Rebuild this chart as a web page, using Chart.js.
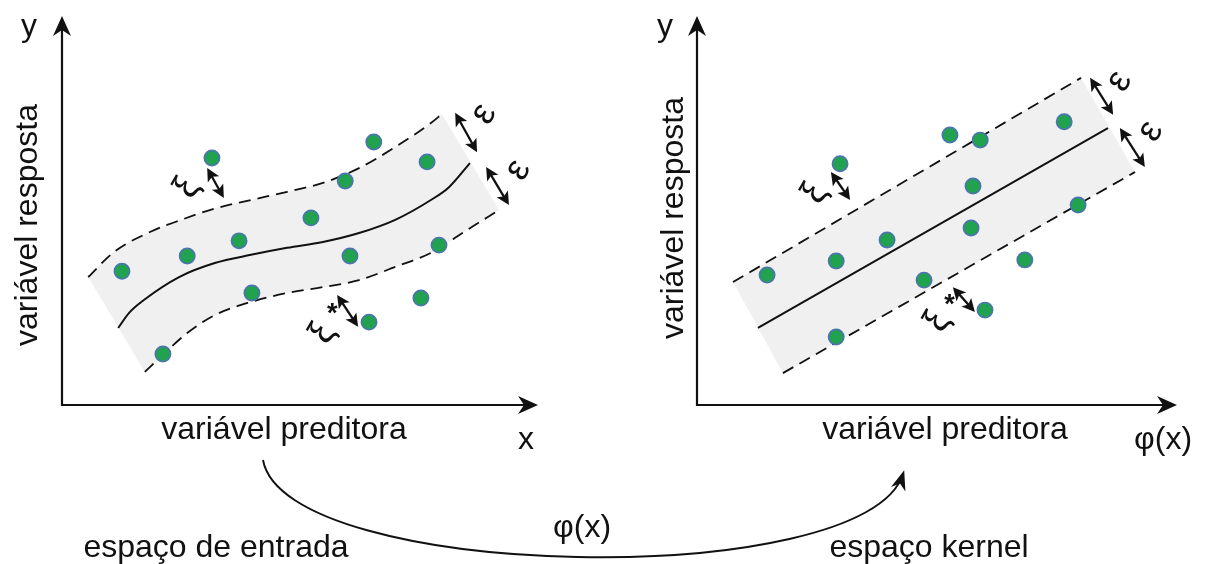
<!DOCTYPE html>
<html>
<head>
<meta charset="utf-8">
<title>Regressão por vetores de suporte</title>
<script src="https://cdn.jsdelivr.net/npm/chart.js@4.4.1/dist/chart.umd.min.js"></script>
<style>
  html, body { margin: 0; padding: 0; background: #ffffff; }
  #wrap { position: relative; width: 1206px; height: 564px; overflow: hidden; }
  #wrap canvas { position: absolute; left: 0; top: 0; }
</style>
</head>
<body>
<div id="wrap">
  <canvas id="entrada" width="1206" height="564"></canvas>
  <canvas id="kernel" width="1206" height="564"></canvas>
</div>
<script>
// ---- texts ----
const xTitle = 'variável preditora';
const yTitle = 'variável resposta';
const spaceNames = ['espaço de entrada', 'espaço kernel'];
const mapName = 'φ(x)';
const axisNames = [['x', 'y'], ['φ(x)', 'y']];

// ---- input space (values on a 0–100 scale for both axes) ----
const inputObs = [
  [12.6, 34.4], [21.2, 13.1], [26.3, 38.3], [31.5, 63.5], [37.2, 42.2],
  [39.9, 28.8], [52.3, 48.1], [59.5, 57.6], [60.5, 38.3], [65.5, 67.6],
  [64.5, 21.3], [75.4, 27.5], [76.7, 62.5], [79.2, 41.1]
];
const inputFit = [
  [11.8, 19.8], [14.1, 23.7], [17.2, 27.0], [24.6, 32.9], [32.1, 36.5],
  [39.7, 38.6], [47.3, 40.4], [54.8, 41.9], [62.4, 44.2], [70.0, 47.6],
  [77.5, 52.7], [81.3, 56.0], [85.7, 62.2]
];
const inputUpper = [
  [5.5, 32.9], [11.0, 39.4], [18.7, 44.6], [24.6, 47.4], [32.1, 50.5],
  [39.7, 52.7], [47.3, 54.8], [54.8, 57.1], [62.4, 60.9], [70.0, 66.3],
  [77.5, 72.5], [79.8, 74.8]
];
const inputLower = [
  [17.4, 8.5], [21.6, 13.4], [26.3, 18.5], [32.1, 23.1], [39.7, 26.5],
  [47.3, 28.8], [54.8, 30.3], [62.4, 32.1], [70.0, 35.5], [77.5, 39.1],
  [85.1, 45.0], [91.8, 50.1]
];
// double arrows: [x1, y1, x2, y2]
const inputArrows = [
  [30.5, 60.9, 34.0, 53.2],
  [82.6, 75.1, 87.2, 65.0],
  [89.1, 61.2, 93.9, 51.4],
  [57.8, 28.3, 62.2, 20.1]
];
// labels: [text, x, y, rotated]
const inputLabels = [
  ['ξ', 26.3, 55.8, true],
  ['ε', 88.6, 74.8, true],
  ['ε', 95.8, 60.4, true],
  ['ξ', 54.8, 18.4, true],
  ['*', 56.8, 23.2, false]
];

// ---- kernel space ----
const kernelObs = [
  [14.6, 33.4], [29.0, 37.0], [29.0, 17.5], [29.8, 62.0], [39.6, 42.4],
  [47.3, 32.1], [52.7, 69.4], [59.0, 68.1], [57.5, 56.3], [57.1, 45.5],
  [60.0, 24.4], [68.3, 37.3], [76.5, 72.8], [79.4, 51.4]
];
const kernelFit = [[12.7, 19.8], [85.6, 71.2]];
const kernelUpper = [[7.5, 31.6], [80.0, 84.1]];
const kernelLower = [[17.9, 8.2], [91.25, 59.9]];
const kernelArrows = [
  [81.9, 84.1, 86.7, 74.6],
  [88.1, 71.2, 93.3, 61.2],
  [27.9, 59.9, 31.9, 52.7],
  [53.3, 30.3, 57.9, 23.9]
];
const kernelLabels = [
  ['ε', 88.0, 83.2, true],
  ['ε', 94.5, 70.4, true],
  ['ξ', 24.6, 54.4, true],
  ['ξ', 50.1, 21.4, true],
  ['*', 52.6, 25.6, false]
];

const INK = '#111111';
const FONT = '"Liberation Sans", Arial, sans-serif';
const toXY = a => a.map(([x, y]) => ({ x, y }));

// light grey tube between the two dashed margins, following their spline paths
const tubePlugin = {
  id: 'tube',
  beforeDatasetsDraw(chart) {
    const up = chart.getDatasetMeta(2), lo = chart.getDatasetMeta(3);
    [up, lo].forEach(m => {
      if (m.dataset && m.dataset.updateControlPoints) m.dataset.updateControlPoints(chart.chartArea, 'x');
    });
    const U = up.data, L = lo.data;
    const seg = (ctx, a, b, rev) => {
      const c1x = rev ? a.cp1x : a.cp2x, c1y = rev ? a.cp1y : a.cp2y;
      const c2x = rev ? b.cp2x : b.cp1x, c2y = rev ? b.cp2y : b.cp1y;
      if (c1x === undefined || c2x === undefined) ctx.lineTo(b.x, b.y);
      else ctx.bezierCurveTo(c1x, c1y, c2x, c2y, b.x, b.y);
    };
    const ctx = chart.ctx;
    ctx.save();
    ctx.beginPath();
    ctx.moveTo(U[0].x, U[0].y);
    for (let i = 1; i < U.length; i++) seg(ctx, U[i - 1], U[i], false);
    ctx.lineTo(L[L.length - 1].x, L[L.length - 1].y);
    for (let i = L.length - 2; i >= 0; i--) seg(ctx, L[i + 1], L[i], true);
    ctx.closePath();
    ctx.fillStyle = '#f0f0f0';
    ctx.fill();
    ctx.restore();
  }
};

function arrowHead(ctx, tx, ty, ang, len, half, notch) {
  ctx.beginPath();
  ctx.moveTo(tx, ty);
  ctx.lineTo(tx - len * Math.cos(ang) + half * Math.sin(ang), ty - len * Math.sin(ang) - half * Math.cos(ang));
  ctx.lineTo(tx - notch * Math.cos(ang), ty - notch * Math.sin(ang));
  ctx.lineTo(tx - len * Math.cos(ang) - half * Math.sin(ang), ty - len * Math.sin(ang) + half * Math.cos(ang));
  ctx.closePath();
  ctx.fill();
}

// axes with arrow tips and their titles
const axesPlugin = {
  id: 'axesArrows',
  afterDraw(chart, args, o) {
    const ctx = chart.ctx, xs = chart.scales.x, ys = chart.scales.y;
    const x0 = xs.getPixelForValue(xs.min), x1 = xs.getPixelForValue(xs.max);
    const y0 = ys.getPixelForValue(ys.min), y1 = ys.getPixelForValue(ys.max);
    ctx.save();
    ctx.strokeStyle = INK; ctx.fillStyle = INK; ctx.lineWidth = 2.2;
    ctx.beginPath();
    ctx.moveTo(x0, y1 + 10); ctx.lineTo(x0, y0); ctx.lineTo(x1 - 10, y0);
    ctx.stroke();
    arrowHead(ctx, x0, y1, -Math.PI / 2, 20, 9, 14);
    arrowHead(ctx, x1, y0, 0, 20, 9, 14);

    ctx.font = '32px ' + FONT;
    ctx.textAlign = 'center'; ctx.textBaseline = 'middle';
    ctx.fillText(o.yName, o.yNameAt[0], o.yNameAt[1]);
    ctx.fillText(o.xName, o.xNameAt[0], o.xNameAt[1]);
    ctx.fillText(xTitle, o.xTitleAt[0], o.xTitleAt[1]);
    ctx.save();
    ctx.translate(o.yTitleAt[0], o.yTitleAt[1]);
    ctx.rotate(-Math.PI / 2);
    ctx.fillText(yTitle, 0, 0);
    ctx.restore();
    ctx.restore();
  }
};

// ε / ξ margins: double arrows and their symbols
const marginsPlugin = {
  id: 'margins',
  afterDatasetsDraw(chart, args, o) {
    const ctx = chart.ctx, xs = chart.scales.x, ys = chart.scales.y;
    ctx.save();
    ctx.strokeStyle = INK; ctx.fillStyle = INK; ctx.lineWidth = 2.3;
    o.arrows.forEach(([a, b, c, d]) => {
      const p1x = xs.getPixelForValue(a), p1y = ys.getPixelForValue(b);
      const p2x = xs.getPixelForValue(c), p2y = ys.getPixelForValue(d);
      const ang = Math.atan2(p2y - p1y, p2x - p1x);
      ctx.beginPath();
      ctx.moveTo(p1x + 7 * Math.cos(ang), p1y + 7 * Math.sin(ang));
      ctx.lineTo(p2x - 7 * Math.cos(ang), p2y - 7 * Math.sin(ang));
      ctx.stroke();
      arrowHead(ctx, p2x, p2y, ang, 13, 6.5, 10);
      arrowHead(ctx, p1x, p1y, ang + Math.PI, 13, 6.5, 10);
    });
    ctx.textAlign = 'center'; ctx.textBaseline = 'middle';
    o.labels.forEach(([t, x, y, rot]) => {
      const px = xs.getPixelForValue(x), py = ys.getPixelForValue(y);
      ctx.save();
      ctx.translate(px, py);
      if (rot) { ctx.rotate(-Math.PI / 3); ctx.font = '37px ' + FONT; }
      else ctx.font = 'bold 27px ' + FONT;
      ctx.fillText(t, 0, 0);
      ctx.restore();
    });
    ctx.restore();
  }
};

// mapping arrow from input space to kernel space
const mappingPlugin = {
  id: 'mapping',
  afterDraw(chart, args, o) {
    if (!o.show) return;
    const ctx = chart.ctx;
    ctx.save();
    ctx.strokeStyle = INK; ctx.fillStyle = INK; ctx.lineWidth = 1.9;
    const s = [263, 460], c1 = [285, 582], c2 = [866, 592], e = [903, 474];
    ctx.beginPath();
    ctx.moveTo(s[0], s[1]);
    ctx.bezierCurveTo(c1[0], c1[1], c2[0], c2[1], e[0], e[1]);
    ctx.stroke();
    const ang = Math.atan2(e[1] - c2[1], e[0] - c2[0]);
    arrowHead(ctx, e[0] + 4 * Math.cos(ang), e[1] + 4 * Math.sin(ang), ang, 20, 7.5, 14);
    ctx.font = '32px ' + FONT;
    ctx.textAlign = 'center'; ctx.textBaseline = 'middle';
    ctx.fillText(mapName, 582, 528);
    ctx.fillText(spaceNames[0], 216, 548);
    ctx.fillText(spaceNames[1], 929, 548);
    ctx.restore();
  }
};

function panel(id, obs, fit, upper, lower, arrows, labels, padding, deco) {
  const curve = {
    showLine: true, pointRadius: 0, fill: false,
    cubicInterpolationMode: 'monotone', borderColor: INK, order: 1
  };
  return new Chart(document.getElementById(id), {
    type: 'line',
    data: {
      datasets: [
        { label: 'observações', data: toXY(obs), showLine: false, pointRadius: 7.6,
          pointBackgroundColor: '#21a24f', pointBorderColor: '#4b75ad', pointBorderWidth: 1.7, order: 0 },
        Object.assign({ label: 'f(x)', data: toXY(fit), borderWidth: 2 }, curve),
        Object.assign({ label: 'f(x) + ε', data: toXY(upper), borderWidth: 1.8, borderDash: [12, 7] }, curve),
        Object.assign({ label: 'f(x) − ε', data: toXY(lower), borderWidth: 1.8, borderDash: [12, 7] }, curve)
      ]
    },
    options: {
      responsive: false,
      animation: false,
      events: [],
      layout: { padding },
      scales: {
        x: { type: 'linear', min: 0, max: 100, display: false },
        y: { type: 'linear', min: 0, max: 100, display: false }
      },
      plugins: {
        legend: { display: false },
        tooltip: { enabled: false },
        axesArrows: deco,
        margins: { arrows, labels },
        mapping: { show: id === 'entrada' }
      }
    },
    plugins: [tubePlugin, axesPlugin, marginsPlugin, mappingPlugin]
  });
}

panel('entrada', inputObs, inputFit, inputUpper, inputLower, inputArrows, inputLabels,
  { left: 62, right: 668, top: 16, bottom: 159 },
  { xName: axisNames[0][0], yName: axisNames[0][1], xNameAt: [526, 440], yNameAt: [29, 27],
    xTitleAt: [284, 430], yTitleAt: [28, 225] });

panel('kernel', kernelObs, kernelFit, kernelUpper, kernelLower, kernelArrows, kernelLabels,
  { left: 697, right: 29, top: 16, bottom: 159 },
  { xName: axisNames[1][0], yName: axisNames[1][1], xNameAt: [1163, 440], yNameAt: [665, 27],
    xTitleAt: [945, 430], yTitleAt: [674, 218] });
</script>
</body>
</html>
